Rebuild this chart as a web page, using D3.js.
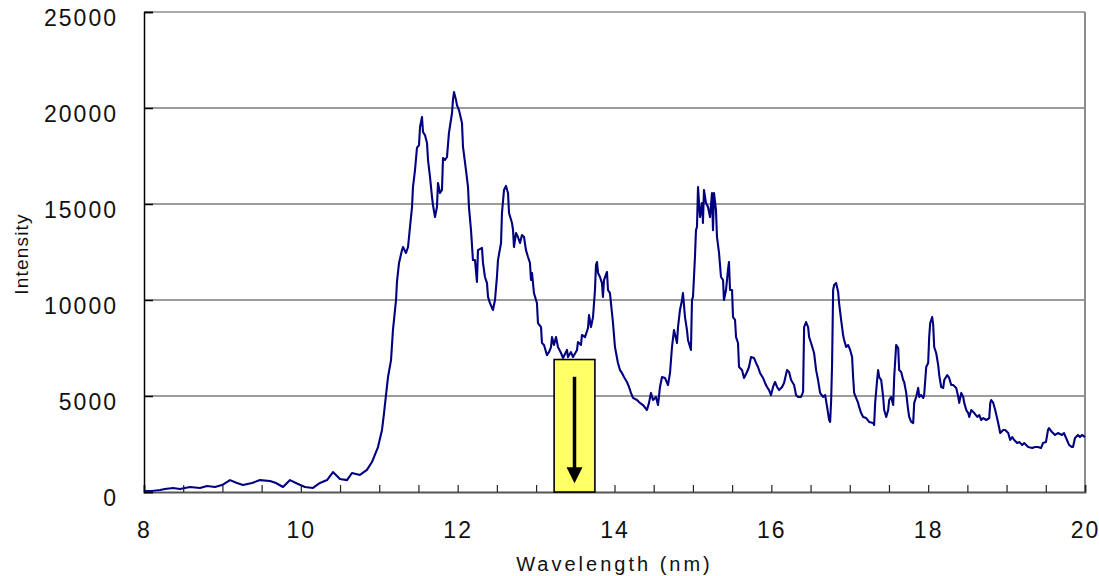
<!DOCTYPE html>
<html>
<head>
<meta charset="utf-8">
<script src="https://cdn.jsdelivr.net/npm/d3@7"></script>
<style>
body { margin: 0; background: #fff; }
svg { display: block; font-family: "Liberation Sans", Arial, sans-serif; }
</style>
</head>
<body>
<script>
// spectrum (nm, counts)
var wavelength = [
	8.000,8.102,8.204,8.268,8.370,8.459,8.587,8.714,8.803,8.905,
	8.995,9.097,9.186,9.262,9.377,9.479,9.607,9.683,9.773,9.862,
	9.964,10.053,10.155,10.244,10.334,10.410,10.499,10.589,10.652,10.754,
	10.843,10.907,10.984,11.035,11.061,11.086,11.112,11.150,11.175,11.214,
	11.226,11.252,11.290,11.303,11.341,11.367,11.392,11.418,11.430,11.456,
	11.481,11.507,11.520,11.545,11.558,11.583,11.609,11.622,11.647,11.673,
	11.685,11.711,11.736,11.749,11.775,11.800,11.813,11.838,11.864,11.889,
	11.928,11.940,11.953,11.979,11.991,12.017,12.055,12.068,12.106,12.132,
	12.144,12.170,12.195,12.221,12.246,12.259,12.310,12.323,12.348,12.374,
	12.387,12.412,12.450,12.476,12.501,12.514,12.553,12.565,12.591,12.616,
	12.642,12.655,12.693,12.706,12.718,12.744,12.769,12.795,12.820,12.846,
	12.871,12.897,12.922,12.935,12.948,12.973,13.011,13.024,13.063,13.075,
	13.101,13.139,13.165,13.190,13.203,13.228,13.254,13.279,13.318,13.343,
	13.394,13.407,13.445,13.471,13.522,13.534,13.573,13.585,13.624,13.662,
	13.675,13.700,13.726,13.751,13.764,13.777,13.790,13.815,13.840,13.853,
	13.866,13.904,13.917,13.942,13.968,13.981,14.006,14.032,14.044,14.070,
	14.095,14.121,14.159,14.185,14.210,14.236,14.287,14.325,14.363,14.414,
	14.440,14.465,14.491,14.529,14.555,14.580,14.606,14.644,14.682,14.708,
	14.733,14.759,14.797,14.810,14.835,14.861,14.873,14.899,14.924,14.937,
	14.975,14.988,15.001,15.026,15.039,15.052,15.065,15.090,15.116,15.128,
	15.141,15.167,15.192,15.218,15.243,15.256,15.269,15.294,15.307,15.333,
	15.358,15.384,15.396,15.422,15.447,15.460,15.473,15.499,15.511,15.537,
	15.550,15.575,15.588,15.626,15.652,15.690,15.715,15.741,15.779,15.805,
	15.830,15.856,15.894,15.920,15.945,15.971,15.996,16.022,16.047,16.073,
	16.098,16.137,16.162,16.200,16.226,16.252,16.290,16.315,16.341,16.379,
	16.405,16.418,16.443,16.469,16.482,16.507,16.545,16.571,16.596,16.622,
	16.660,16.686,16.711,16.737,16.750,16.763,16.775,16.788,16.801,16.826,
	16.852,16.864,16.890,16.915,16.928,16.954,16.979,17.005,17.030,17.043,
	17.056,17.081,17.107,17.120,17.145,17.171,17.209,17.247,17.298,17.311,
	17.324,17.349,17.362,17.375,17.401,17.426,17.439,17.465,17.490,17.503,
	17.528,17.554,17.567,17.592,17.618,17.630,17.656,17.681,17.694,17.720,
	17.745,17.758,17.784,17.809,17.822,17.847,17.873,17.886,17.911,17.937,
	17.949,17.975,18.000,18.013,18.026,18.051,18.064,18.077,18.102,18.128,
	18.141,18.166,18.192,18.205,18.243,18.268,18.294,18.319,18.358,18.384,
	18.396,18.422,18.447,18.460,18.486,18.511,18.524,18.550,18.588,18.626,
	18.651,18.677,18.702,18.741,18.779,18.792,18.804,18.830,18.855,18.893,
	18.919,18.957,18.982,19.021,19.046,19.072,19.097,19.135,19.161,19.199,
	19.225,19.250,19.276,19.327,19.362,19.401,19.439,19.464,19.502,19.528,
	19.541,19.579,19.617,19.655,19.706,19.732,19.770,19.796,19.834,19.847,
	19.872,19.911,19.936,19.962,20.000
];
var intensity = [
	50,50,100,160,210,160,260,210,310,260,
	360,620,470,360,470,620,570,470,260,620,
	420,260,210,470,620,1040,680,620,990,890,
	1150,1560,2340,3230,4110,5050,5990,6870,8440,10000,
	10940,11930,12600,12760,12450,12760,13800,14840,15880,16770,
	17920,18070,19010,19530,18750,18590,18180,17290,16410,15360,
	14950,14320,14840,16090,15570,15730,17390,17290,17450,18700,
	19740,20420,20830,20420,20150,19890,19220,17970,16770,15880,
	14840,13640,12080,12080,10940,12600,12710,11930,11200,10880,
	10160,9840,9480,10000,11200,12080,12970,14530,15730,15940,
	15570,14530,14010,13640,12760,13490,13280,12970,13380,13280,
	12600,12240,11930,11040,11410,10360,9840,8800,8590,7760,
	7660,7130,7290,7550,8070,7660,8070,7550,7240,6980,
	7400,7030,7290,7030,7400,7810,7660,8180,8070,8540,
	9220,8590,9110,10520,11820,11980,11410,11200,10880,10160,
	11040,11460,10520,10360,9320,8800,7550,6980,6720,6350,
	6200,5990,5730,5470,5160,4900,4790,4640,4530,4270,
	4640,5160,4790,4950,4530,5470,5990,5940,5570,6200,
	7550,8440,7760,8590,9480,10000,10360,9110,8440,7920,
	7400,10000,10160,12240,13640,13800,15880,14320,15050,14010,
	15730,15050,14840,14320,15570,13640,15570,14690,13280,12450,
	11200,11040,10000,10520,11560,11980,10520,10520,9110,8960,
	8070,7760,6510,6350,5940,6250,6510,7030,6980,6720,
	6510,6200,5940,5680,5470,5310,5050,5470,5730,5470,
	5310,5470,5680,6350,6250,5830,5570,5050,4950,4950,
	5210,8590,8850,8590,8070,7760,7240,6350,5830,5160,
	4950,5050,4430,3750,3650,4790,6720,10520,10780,10880,
	10420,9840,8960,8180,7920,7550,7660,7400,7030,5990,
	5160,4900,4640,4430,4110,3910,3850,3650,3590,3490,
	4640,5830,6350,5990,5830,4950,4270,3910,4270,4790,
	4950,4530,5990,7660,7500,6350,6250,5830,5730,5160,
	4270,3910,3650,3590,4640,4950,5420,4950,5050,4900,
	5050,6510,6720,8070,8800,9110,8700,7550,7240,6610,
	6090,5470,5420,5830,6090,5940,5570,5570,5420,4950,
	4640,5160,4950,4640,4270,4110,3910,4270,4110,3910,
	4010,3750,3850,3750,3850,4640,4790,4640,4270,3590,
	3070,3230,3230,3070,2710,2860,2710,2550,2600,2450,
	2550,2450,2340,2290,2340,2340,2290,2550,2600,3230,
	3330,3120,2970,3070,2970,3070,2710,2450,2340,2340,
	2810,2970,2860,2970,2860
];

var xLabels = [8, 10, 12, 14, 16, 18, 20];
var xMinor = [8, 8.5, 9, 9.5, 10, 10.5, 11, 11.5, 12, 12.5, 13, 13.5, 14, 14.5, 15, 15.5, 16, 16.5, 17, 17.5, 18, 18.5, 19, 19.5, 20];
var yTicks = [0, 5000, 10000, 15000, 20000, 25000];

// marked band (yellow box with arrow)
var band = [13.23, 13.75],
	bandTop = 6900,
	arrowFrom = 6000,
	arrowTo = 450;

var width = 1099, height = 576,
	plotLeft = 144, plotRight = 1085, plotTop = 12, plotBottom = 492,
	lineColor = "#000080";

var svg = d3.select("body")
		.append("svg")
		.attr("width", width)
		.attr("height", height);

var x = d3.scaleLinear().domain([8, 20]).range([plotLeft, plotRight]),
	y = d3.scaleLinear().domain([0, 25000]).range([plotBottom, plotTop]);

var points = wavelength.map(function(w, i) { return [w, intensity[i]]; });

// grid
svg.append("g")
	.selectAll("line")
	.data(yTicks.filter(function(t) { return t > 0 && t < 25000; }))
	.enter().append("line")
		.attr("x1", plotLeft).attr("x2", plotRight)
		.attr("y1", function(d) { return y(d); })
		.attr("y2", function(d) { return y(d); })
		.attr("stroke", "#3a3a3a")
		.attr("stroke-width", 1.2);

// frame top + right
svg.append("line")
	.attr("x1", plotLeft).attr("x2", plotRight)
	.attr("y1", y(25000)).attr("y2", y(25000))
	.attr("stroke", "#8c8c8c").attr("stroke-width", 1.5);
svg.append("line")
	.attr("x1", plotRight).attr("x2", plotRight)
	.attr("y1", y(25000)).attr("y2", y(0))
	.attr("stroke", "#8c8c8c").attr("stroke-width", 2);

// spectrum
var line = d3.line()
	.x(function(d) { return x(d[0]); })
	.y(function(d) { return y(d[1]); });

svg.append("path")
	.datum(points)
	.attr("fill", "none")
	.attr("stroke", lineColor)
	.attr("stroke-width", 2.1)
	.attr("stroke-linejoin", "round")
	.attr("d", line);

// x axis
var xAxis = svg.append("g")
	.attr("transform", "translate(0," + plotBottom + ")")
	.call(d3.axisBottom(x)
		.tickValues(xMinor)
		.tickSize(-7)
		.tickPadding(30)
		.tickFormat(function(d) { return xLabels.indexOf(d) >= 0 ? d : ""; }));
xAxis.select(".domain").attr("stroke", "#555").attr("stroke-width", 2);
xAxis.selectAll(".tick line").attr("stroke", "#222").attr("stroke-width", 1.2);
xAxis.selectAll("text")
	.attr("font-size", 23)
	.attr("letter-spacing", "2px")
	.attr("fill", "#111");

// y axis
var yAxis = svg.append("g")
	.attr("transform", "translate(" + plotLeft + ",0)")
	.call(d3.axisLeft(y)
		.tickValues(yTicks)
		.tickSize(-9)
		.tickPadding(26)
		.tickFormat(d3.format("d")));
yAxis.select(".domain").attr("stroke", "#000").attr("stroke-width", 1.5);
yAxis.selectAll(".tick line").attr("stroke", "#000").attr("stroke-width", 1.5);
yAxis.selectAll("text")
	.attr("font-size", 23)
	.attr("letter-spacing", "2px")
	.attr("dy", "0.6em")
	.attr("fill", "#111");

// axis titles
svg.append("text")
	.attr("x", (plotLeft + plotRight) / 2)
	.attr("y", 571)
	.attr("text-anchor", "middle")
	.attr("font-size", 20)
	.attr("letter-spacing", "3px")
	.attr("fill", "#111")
	.text("Wavelength (nm)");

svg.append("text")
	.attr("transform", "translate(28," + ((plotTop + plotBottom) / 2 + 2) + ") rotate(-90)")
	.attr("text-anchor", "middle")
	.attr("font-size", 19)
	.attr("letter-spacing", "1.2px")
	.attr("fill", "#111")
	.text("Intensity");

// yellow box + arrow
svg.append("rect")
	.attr("x", x(band[0]))
	.attr("y", y(bandTop))
	.attr("width", x(band[1]) - x(band[0]))
	.attr("height", y(0) - y(bandTop))
	.attr("fill", "#ffff66")
	.attr("stroke", "#000")
	.attr("stroke-width", 1.6);

var ax = x((band[0] + band[1]) / 2),
	headLen = 16, headHalf = 8;
svg.append("line")
	.attr("x1", ax).attr("x2", ax)
	.attr("y1", y(arrowFrom)).attr("y2", y(arrowTo) - headLen + 2)
	.attr("stroke", "#000").attr("stroke-width", 3.5);
svg.append("path")
	.attr("d", "M" + (ax - headHalf) + "," + (y(arrowTo) - headLen) +
		"L" + (ax + headHalf) + "," + (y(arrowTo) - headLen) +
		"L" + ax + "," + y(arrowTo) + "Z")
	.attr("fill", "#000");
</script>
</body>
</html>
